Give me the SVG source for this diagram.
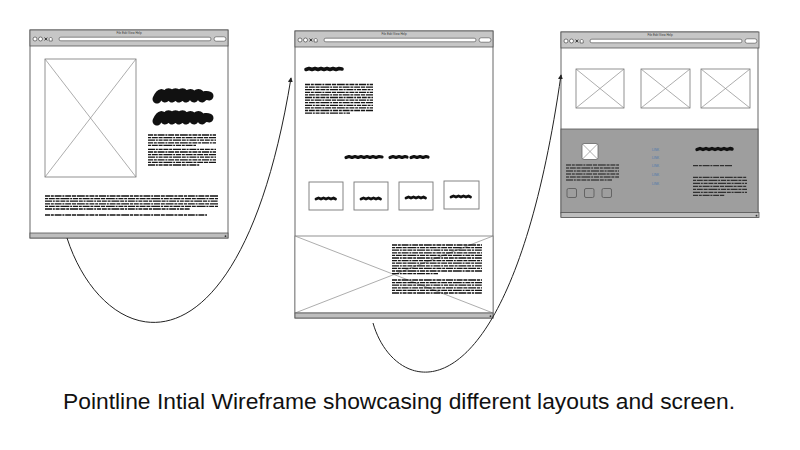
<svg xmlns="http://www.w3.org/2000/svg" xmlns:xlink="http://www.w3.org/1999/xlink" width="800" height="450" viewBox="0 0 800 450">
<style>
.frame{fill:#fff;stroke:#666;stroke-width:1}
.img{fill:#fff;stroke:#777;stroke-width:0.8}
.x{stroke:#8a8a8a;stroke-width:0.7;fill:none}
.t1,.t2,.t3{stroke:#151515;stroke-width:1.3;fill:none}
.t1{stroke-dasharray:5 0.8 3 0.8 7 0.8 2 0.8 6 0.8 4 0.8 8 0.8 3 0.8}
.t2{stroke-dasharray:3 0.8 6 0.8 4 0.8 9 0.8 2 0.8 5 0.8 3 0.8 7 0.8}
.t3{stroke-dasharray:7 0.8 2 0.8 4 0.8 5 0.8 3 0.8 8 0.8 4 0.8 2 0.8}
.thin{stroke-width:1}
.scr{stroke:#111;fill:none;stroke-linecap:round;stroke-linejoin:round}
.box{fill:#fff;stroke:#777;stroke-width:0.9}
.conn{fill:none;stroke:#222;stroke-width:1}
.ttl{font-family:"Liberation Sans",Arial,sans-serif;font-size:3px;fill:#333}
.lnk{font-family:"Liberation Sans",Arial,sans-serif;font-size:3.2px;fill:#4a78b0}
.cap{font-family:"Liberation Sans",Arial,sans-serif;font-size:22px;fill:#111}
</style>
<defs>
<marker id="ah" viewBox="0 0 6 6" refX="5" refY="3" markerWidth="5" markerHeight="5" orient="auto">
<path d="M0,0 L6,3 L0,6 z" fill="#222"/>
</marker>
<g id="chrome">
<rect x="0" y="0" width="198" height="16" fill="#c6c6c6" stroke="#555" stroke-width="0.8"/>
<text class="ttl" x="99" y="3.8" text-anchor="middle">File Edit View Help</text>
<circle cx="5" cy="9" r="2" fill="#fff" stroke="#333" stroke-width="0.6"/>
<circle cx="10.5" cy="9" r="2" fill="#fff" stroke="#333" stroke-width="0.6"/>
<path d="M14.6,7.6 l2.6,2.8 m0,-2.8 l-2.6,2.8" stroke="#222" stroke-width="0.9" fill="none"/>
<path d="M19.2,11 v-2.4 l1.5,-1.6 l1.5,1.6 v2.4 z" fill="#fff" stroke="#333" stroke-width="0.6"/>
<rect x="29" y="7.2" width="152" height="3.6" rx="1.8" fill="#fff" stroke="#444" stroke-width="0.6"/>
<rect x="184" y="6.8" width="12" height="4.4" rx="2.2" fill="#fff" stroke="#444" stroke-width="0.6"/>
</g>
<g id="status">
<rect x="0" y="0" width="198" height="5" fill="#bdbdbd" stroke="#555" stroke-width="0.8"/>
<circle cx="195.5" cy="3.2" r="0.9" fill="#333"/>
</g>
</defs>
<rect width="800" height="450" fill="#fff"/>

<g id="window1">
<rect class="frame" x="30" y="30" width="198" height="208"/>
<use xlink:href="#chrome" x="30" y="30"/>
<rect class="img" x="45" y="59" width="91" height="118"/>
<path class="x" d="M45,59 L136,177 M136,59 L45,177"/>
<path class="scr" stroke-width="9" d="M157,99 c3,-7 5,-7 8,-1 c2,-7 5,-7 7,0 c2,-7 5,-7 7,0 c2,-7 5,-7 7,0 c3,-6 6,-6 8,0 c3,-6 6,-6 8,0 c2,-3 5,-3 7,-2"/>
<path class="scr" stroke-width="9" d="M157,121 c3,-7 5,-7 8,-1 c2,-7 5,-7 7,0 c2,-7 5,-7 7,0 c2,-7 5,-7 7,0 c3,-6 6,-6 8,0 c3,-6 6,-6 8,0 c2,-3 5,-3 7,-2"/>
<line class="t1" x1="148" y1="135" x2="216" y2="135"/>
<line class="t2" x1="148" y1="137.6" x2="216" y2="137.6"/>
<line class="t3" x1="148" y1="140.2" x2="216" y2="140.2"/>
<line class="t1" x1="148" y1="142.8" x2="216" y2="142.8"/>
<line class="t2" x1="148" y1="145.4" x2="196" y2="145.4"/>
<line class="t3" x1="148" y1="149.4" x2="216" y2="149.4"/>
<line class="t1" x1="148" y1="152" x2="216" y2="152"/>
<line class="t2" x1="148" y1="154.6" x2="216" y2="154.6"/>
<line class="t3" x1="148" y1="157.2" x2="216" y2="157.2"/>
<line class="t1" x1="148" y1="159.8" x2="216" y2="159.8"/>
<line class="t2" x1="148" y1="162.4" x2="216" y2="162.4"/>
<line class="t3" x1="148" y1="165" x2="200" y2="165"/>
<line class="t1" x1="45" y1="196" x2="218" y2="196"/>
<line class="t2" x1="45" y1="198.6" x2="218" y2="198.6"/>
<line class="t3" x1="45" y1="201.2" x2="218" y2="201.2"/>
<line class="t1" x1="45" y1="203.8" x2="218" y2="203.8"/>
<line class="t2" x1="45" y1="206.4" x2="218" y2="206.4"/>
<line class="t3" x1="45" y1="209" x2="190" y2="209"/>
<line class="t1" x1="45" y1="215" x2="207" y2="215"/>
<use xlink:href="#status" x="30" y="233"/>
</g>

<g id="window2">
<rect class="frame" x="295" y="31" width="198" height="287"/>
<use xlink:href="#chrome" x="295" y="31"/>
<path class="scr" stroke-width="3.6" d="M306,69.5 l3,-1 3,1 3,-1 3,1 3,-1 3,1 3,-1 3,1 3,-1 3,1 3,-1 3,0.5"/>
<line class="t1" x1="305" y1="84.5" x2="373" y2="84.5"/>
<line class="t2" x1="305" y1="87.1" x2="373" y2="87.1"/>
<line class="t3" x1="305" y1="89.7" x2="373" y2="89.7"/>
<line class="t1" x1="305" y1="92.3" x2="373" y2="92.3"/>
<line class="t2" x1="305" y1="94.9" x2="373" y2="94.9"/>
<line class="t3" x1="305" y1="97.5" x2="373" y2="97.5"/>
<line class="t1" x1="305" y1="100.1" x2="373" y2="100.1"/>
<line class="t2" x1="305" y1="102.7" x2="373" y2="102.7"/>
<line class="t3" x1="305" y1="105.3" x2="373" y2="105.3"/>
<line class="t1" x1="305" y1="107.9" x2="373" y2="107.9"/>
<line class="t2" x1="305" y1="110.5" x2="373" y2="110.5"/>
<line class="t3" x1="305" y1="113.1" x2="350" y2="113.1"/>
<path class="scr" stroke-width="3.2" d="M346,157.5 l3,-1 3,1 3,-1 3,1 3,-1 3,1 3,-1 3,1 3,-1 3,1 3,-1 3,0.5 M390,157.5 l3,-1 3,1 3,-1 3,1 3,-1 2,0.5 M411,157.5 l3,-1 3,1 3,-1 3,1 3,-1 2,0.5"/>
<rect class="box" x="309" y="182" width="34" height="28"/>
<rect class="box" x="354" y="182" width="34" height="28"/>
<rect class="box" x="399" y="182" width="34" height="28"/>
<rect class="box" x="444" y="181" width="35" height="28"/>
<path class="scr" stroke-width="2.8" d="M316,199 l2.5,-1 2.5,1 2.5,-1 2.5,1 2.5,-1 2.5,1 2.5,-1 2,1"/>
<path class="scr" stroke-width="2.8" d="M361,199 l2.5,-1 2.5,1 2.5,-1 2.5,1 2.5,-1 2.5,1 2.5,-1 2,1"/>
<path class="scr" stroke-width="2.8" d="M406,198 l2.5,-1 2.5,1 2.5,-1 2.5,1 2.5,-1 2.5,1 2.5,-1 2,1"/>
<path class="scr" stroke-width="2.8" d="M451,197 l2.5,-1 2.5,1 2.5,-1 2.5,1 2.5,-1 2.5,1 2.5,-1 2,1"/>
<rect class="img" x="295" y="236" width="198" height="77"/>
<path class="x" d="M295,236 L493,313 M493,236 L295,313"/>
<line class="t1" x1="392" y1="245" x2="482" y2="245"/>
<line class="t2" x1="392" y1="247.6" x2="482" y2="247.6"/>
<line class="t3" x1="392" y1="250.2" x2="482" y2="250.2"/>
<line class="t1" x1="392" y1="252.8" x2="482" y2="252.8"/>
<line class="t2" x1="392" y1="255.4" x2="482" y2="255.4"/>
<line class="t3" x1="392" y1="258" x2="482" y2="258"/>
<line class="t1" x1="392" y1="260.6" x2="482" y2="260.6"/>
<line class="t2" x1="392" y1="263.2" x2="482" y2="263.2"/>
<line class="t3" x1="392" y1="265.8" x2="482" y2="265.8"/>
<line class="t1" x1="392" y1="268.4" x2="482" y2="268.4"/>
<line class="t2" x1="392" y1="271" x2="482" y2="271"/>
<line class="t3" x1="392" y1="273.6" x2="438" y2="273.6"/>
<line class="t1" x1="392" y1="280" x2="482" y2="280"/>
<line class="t2" x1="392" y1="282.6" x2="482" y2="282.6"/>
<line class="t3" x1="392" y1="285.2" x2="482" y2="285.2"/>
<line class="t1" x1="392" y1="287.8" x2="482" y2="287.8"/>
<line class="t2" x1="392" y1="290.4" x2="482" y2="290.4"/>
<line class="t3" x1="392" y1="293" x2="482" y2="293"/>
<use xlink:href="#status" x="295" y="313"/>
</g>

<g id="window3">
<rect class="frame" x="561" y="32" width="197" height="185"/>
<use xlink:href="#chrome" x="561" y="32"/>
<rect class="img" x="576" y="69" width="48" height="39"/>
<path class="x" d="M576,69 L624,108 M624,69 L576,108"/>
<rect class="img" x="641" y="69" width="49" height="39"/>
<path class="x" d="M641,69 L690,108 M690,69 L641,108"/>
<rect class="img" x="701" y="69" width="49" height="39"/>
<path class="x" d="M701,69 L750,108 M750,69 L701,108"/>
<rect x="561" y="129" width="197" height="84" fill="#9e9e9e" stroke="#555" stroke-width="0.8"/>
<rect x="582" y="143.5" width="16" height="16" rx="2" fill="#fff" stroke="#666" stroke-width="0.8"/>
<path class="x" d="M582,143.5 L598,159.5 M598,143.5 L582,159.5"/>
<line class="t1 thin" x1="566" y1="165" x2="619" y2="165"/>
<line class="t2 thin" x1="566" y1="168" x2="619" y2="168"/>
<line class="t3 thin" x1="566" y1="171" x2="619" y2="171"/>
<line class="t1 thin" x1="566" y1="174" x2="619" y2="174"/>
<line class="t2 thin" x1="566" y1="177" x2="619" y2="177"/>
<line class="t3 thin" x1="566" y1="180" x2="612" y2="180"/>
<rect x="567" y="188.5" width="9.5" height="9" rx="1.5" fill="#9e9e9e" stroke="#555" stroke-width="0.8"/>
<rect x="584.5" y="188.5" width="9.5" height="9" rx="1.5" fill="#9e9e9e" stroke="#555" stroke-width="0.8"/>
<rect x="602" y="188.5" width="9.5" height="9" rx="1.5" fill="#9e9e9e" stroke="#555" stroke-width="0.8"/>
<text class="lnk" x="652" y="150.5">LINK</text>
<text class="lnk" x="652" y="158.5">LINK</text>
<text class="lnk" x="652" y="167">LINK</text>
<text class="lnk" x="652" y="175.5">LINK</text>
<text class="lnk" x="652" y="185">LINK</text>
<path class="scr" stroke-width="3.4" d="M697,149.5 l3,-1 3,1 3,-1 3,1 3,-1 3,1 3,-1 3,1 3,-1 3,1 3,-1 2,0.5"/>
<line class="t1 thin" x1="693" y1="165.7" x2="732" y2="165.7"/>
<line class="t1 thin" x1="693" y1="177.3" x2="747" y2="177.3"/>
<line class="t2 thin" x1="693" y1="180.3" x2="747" y2="180.3"/>
<line class="t3 thin" x1="693" y1="183.3" x2="747" y2="183.3"/>
<line class="t1 thin" x1="693" y1="186.3" x2="747" y2="186.3"/>
<line class="t2 thin" x1="693" y1="189.3" x2="747" y2="189.3"/>
<line class="t3 thin" x1="693" y1="192.3" x2="747" y2="192.3"/>
<line class="t1 thin" x1="693" y1="195.3" x2="725" y2="195.3"/>
<use xlink:href="#status" x="561" y="212.5"/>
</g>

<g id="connectors">
<path class="conn" d="M67,238 C105,355 240,390 291,78" marker-end="url(#ah)"/>
<path class="conn" d="M373,323 C395,400 510,430 561,75" marker-end="url(#ah)"/>
</g>

<text class="cap" x="399" y="409" text-anchor="middle" textLength="672" lengthAdjust="spacingAndGlyphs">Pointline Intial Wireframe showcasing different layouts and screen.</text>
</svg>
